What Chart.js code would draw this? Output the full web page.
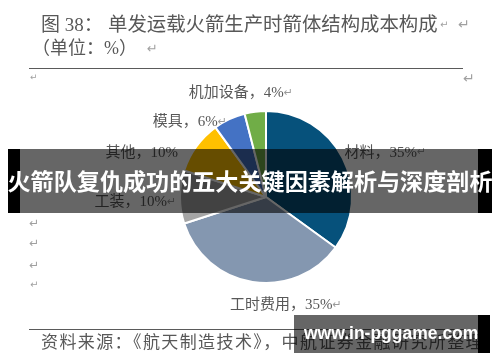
<!DOCTYPE html>
<html><head><meta charset="utf-8">
<script src="https://cdn.jsdelivr.net/npm/chart.js@4/dist/chart.umd.min.js"></script>
<style>
html,body{margin:0;padding:0;background:#fff;}
body{width:500px;height:362px;position:relative;overflow:hidden;font-family:"Liberation Serif","Noto Sans CJK SC",serif;color:#585858;}
canvas{position:absolute;left:0;top:0;}
.t{position:absolute;white-space:nowrap;line-height:1;}
.rm{position:absolute;font-family:"DejaVu Sans",sans-serif;color:#a0a0a0;line-height:1;}
.hl{position:absolute;height:1px;background:#5a5a5a;}
.ov{position:absolute;background:rgba(0,0,0,0.6);}
.bk{position:absolute;background:#000;}
.bt{position:absolute;white-space:nowrap;color:#fff;font-weight:bold;line-height:1;}
</style></head>
<body>
<canvas id="c" width="500" height="362"></canvas>

<div class="t" style="left:41px;top:15px;font-size:19px;">图 38：</div>
<div class="t" style="left:108px;top:15px;font-size:19.4px;">单发运载火箭生产时箭体结构成本构成</div>
<div class="rm" style="left:440px;top:20px;font-size:10px;">↵</div>
<div class="rm" style="left:458px;top:17px;font-size:14px;">↵</div>
<div class="t" style="left:32px;top:39px;font-size:18px;">（单位：%）</div>
<div class="rm" style="left:147px;top:42px;font-size:13px;">↵</div>
<div class="hl" style="left:29px;top:68px;width:434px;"></div>
<div class="rm" style="left:30px;top:73px;font-size:9px;">↵</div>
<div class="rm" style="left:463px;top:71px;font-size:14px;">↵</div>
<div class="rm" style="left:30px;top:171px;font-size:12px;">↵</div>
<div class="rm" style="left:29px;top:217px;font-size:12px;">↵</div>
<div class="rm" style="left:29px;top:237px;font-size:12px;">↵</div>
<div class="rm" style="left:29px;top:259px;font-size:12px;">↵</div>
<div class="rm" style="left:30px;top:280px;font-size:10px;">↵</div>
<div class="hl" style="left:29px;top:329px;width:436px;"></div>
<div class="t" style="left:41px;top:334px;font-size:17px;letter-spacing:1.4px;">资料来源：《航天制造技术》，中航证券金融研究所整理</div>

<div class="bk" style="left:8px;top:149px;width:12px;height:64px;"></div>
<div class="ov" style="left:20px;top:149px;width:458px;height:64px;"></div>
<div class="bk" style="left:478px;top:149px;width:14px;height:64px;"></div>
<div class="bt" style="left:0;top:169px;width:500px;text-align:center;font-size:23.1px;font-family:'Noto Sans CJK SC',sans-serif;">火箭队复仇成功的五大关键因素解析与深度剖析</div>

<div class="ov" style="left:294px;top:315px;width:184px;height:38px;"></div>
<div class="bk" style="left:478px;top:315px;width:12px;height:38px;"></div>
<div class="bt" style="left:304px;top:325px;font-size:17.5px;font-family:'Liberation Sans',Arial,sans-serif;">www.in-pggame.com</div>

<script>
const categories = ['材料', '工时费用', '工装', '其他', '模具', '机加设备'];
const shares = [35, 35, 10, 10, 6, 4];
const returnMark = [true, true, true, false, true, true];

const palette = ['#06517B', '#8497B0', '#A5A5A5', '#FFC000', '#4472C4', '#70AD47'];
// label placement relative to each slice: radius factor and angular shift (deg)
const labelPlace = [
  {k: 1.48, da: 6.6},
  {k: 1.28, da: -19.4},
  {k: 1.52, da: -2.4},
  {k: 1.53, da: -16.7},
  {k: 1.24, da: -20.4},
  {k: 1.24, da: -6.4}
];

const pieLabels = {
  id: 'pieLabels',
  afterDatasetsDraw(chart) {
    const ctx = chart.ctx;
    const meta = chart.getDatasetMeta(0);
    meta.data.forEach((el, i) => {
      const p = el.getProps(['x', 'y', 'startAngle', 'endAngle', 'outerRadius'], true);
      const mid = (p.startAngle + p.endAngle) / 2 + labelPlace[i].da * Math.PI / 180;
      const r = p.outerRadius * labelPlace[i].k;
      const cx = p.x + Math.cos(mid) * r;
      const cy = p.y + Math.sin(mid) * r;
      const txt = categories[i] + '，' + chart.data.datasets[0].data[i] + '%';
      ctx.save();
      ctx.font = "15px 'Liberation Serif', 'Noto Sans CJK SC', serif";
      const w1 = ctx.measureText(txt).width;
      ctx.font = "11px 'DejaVu Sans', sans-serif";
      const w2 = returnMark[i] ? ctx.measureText('↵').width : 0;
      const x0 = cx - (w1 + w2) / 2;
      ctx.textBaseline = 'middle';
      ctx.textAlign = 'left';
      ctx.fillStyle = '#585858';
      ctx.font = "15px 'Liberation Serif', 'Noto Sans CJK SC', serif";
      ctx.fillText(txt, x0, cy);
      if (returnMark[i]) {
        ctx.fillStyle = '#9a9a9a';
        ctx.font = "11px 'DejaVu Sans', sans-serif";
        ctx.fillText('↵', x0 + w1, cy);
      }
      ctx.restore();
    });
  }
};

new Chart(document.getElementById('c'), {
  type: 'pie',
  data: {
    labels: categories,
    datasets: [{
      data: shares,
      backgroundColor: palette,
      borderColor: '#ffffff',
      borderWidth: 2
    }]
  },
  options: {
    responsive: false,
    animation: false,
    layout: {padding: {left: 179, right: 147, top: 110, bottom: 78}},
    plugins: {legend: {display: false}, tooltip: {enabled: false}}
  },
  plugins: [pieLabels]
});
</script>
</body></html>
